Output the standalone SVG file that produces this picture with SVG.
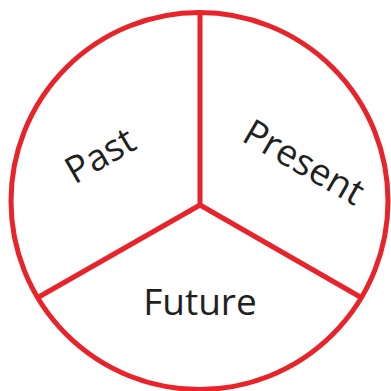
<svg xmlns="http://www.w3.org/2000/svg" width="391" height="391" viewBox="0 0 391 391">
<style>
.ln{stroke:#e8232a;stroke-width:5;fill:none}
.lb{font-family:"Open Sans","Liberation Sans",sans-serif;font-size:37px;fill:#231f20;text-anchor:middle}
</style>
<rect width="391" height="391" fill="#fff"/>
<g id="connectors">
<circle class="ln" cx="199.5" cy="201" r="188.5"/>
<line class="ln" x1="200" y1="205" x2="200" y2="12"/>
<line class="ln" x1="200" y1="205" x2="37" y2="298"/>
<line class="ln" x1="200" y1="205" x2="362" y2="298"/>
</g>
<g id="past"><text class="lb" transform="translate(100,155) rotate(-30)" y="13">Past</text></g>
<g id="present"><text class="lb" transform="translate(304,162) rotate(30)" y="13">Present</text></g>
<g id="future"><text class="lb" x="200" y="315">Future</text></g>
</svg>
